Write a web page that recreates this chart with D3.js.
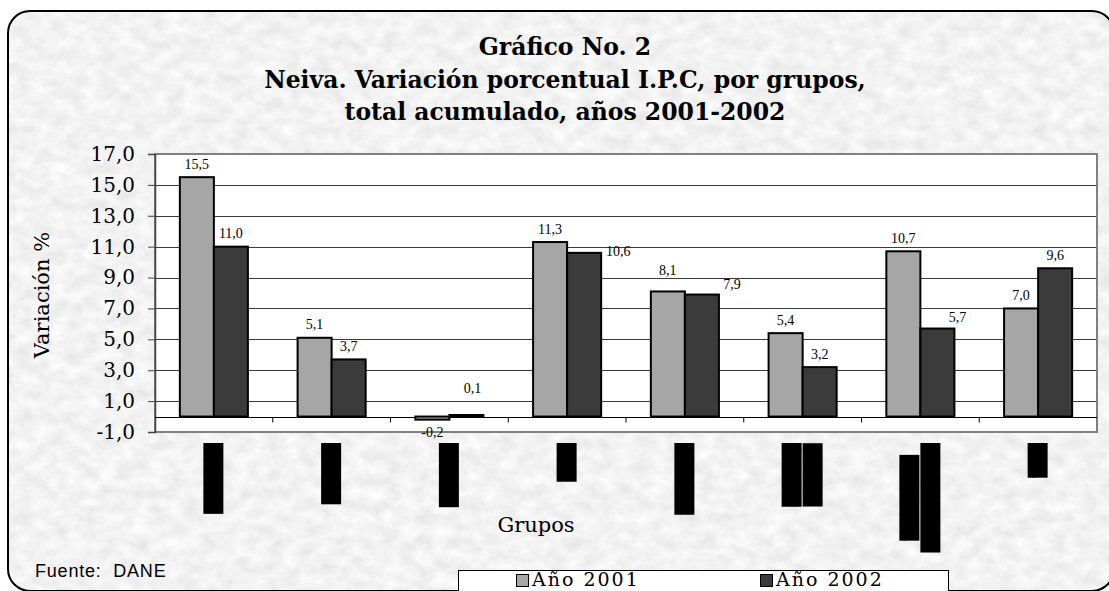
<!DOCTYPE html>
<html>
<head>
<meta charset="utf-8">
<script src="https://cdn.jsdelivr.net/npm/d3@7/dist/d3.min.js"></script>
<style>
  html, body { margin: 0; padding: 0; background: #fff; }
  svg { display: block; }
</style>
</head>
<body>
<div id="chart"></div>
<script>
// IPC chart, Neiva 2001-2002

// Chart data
const categories = [
  ['Alimentos'],
  ['Vivienda'],
  ['Vestuario'],
  ['Salud'],
  ['Educación'],
  ['Cultura y', 'diversión'],
  ['Transporte y', 'comunicaciones'],
  ['Total']
];
const seriesNames = ['Año 2001', 'Año 2002'];
const values2001 = [15.5, 5.1, -0.2, 11.3, 8.1, 5.4, 10.7, 7.0];
const values2002 = [11.0, 3.7, 0.1, 10.6, 7.9, 3.2, 5.7, 9.6];
const yTicks = [-1, 1, 3, 5, 7, 9, 11, 13, 15, 17];
const titleLines = [
  'Gráfico No. 2',
  'Neiva. Variación porcentual I.P.C, por grupos,',
  'total acumulado, años 2001-2002'
];

const width = 1109;
const height = 591;
const colors = ['#a6a6a6', '#3b3b3b'];
const serif = '"DejaVu Serif", serif';
const plainSerif = '"Liberation Serif", "Times New Roman", serif';

// Spanish number format (comma decimal, ascii minus)
const esLocale = d3.formatLocale({
  decimal: ',', thousands: '.', grouping: [3], currency: ['$', ''], minus: '-'
});
const fmt = esLocale.format('.1f');

const svg = d3.select('#chart')
  .append('svg')
  .attr('width', width)
  .attr('height', height);

const defs = svg.append('defs');

// Marble-like gray texture for the frame background
const filter = defs.append('filter')
  .attr('id', 'marble')
  .attr('x', 0).attr('y', 0).attr('width', 1).attr('height', 1);
filter.append('feTurbulence')
  .attr('type', 'fractalNoise')
  .attr('baseFrequency', '0.06 0.08')
  .attr('numOctaves', 5)
  .attr('seed', 7)
  .attr('result', 'noise');
filter.append('feColorMatrix')
  .attr('in', 'noise')
  .attr('type', 'matrix')
  .attr('values', '0.26 0 0 0 0.76  0.26 0 0 0 0.76  0.26 0 0 0 0.76  0 0 0 0 1');

const frame = { x: 8, y: 11, w: 1106, h: 580, r: 22 };

defs.append('clipPath').attr('id', 'frameClip')
  .append('rect')
  .attr('x', frame.x).attr('y', frame.y)
  .attr('width', frame.w).attr('height', frame.h)
  .attr('rx', frame.r);

svg.append('rect')
  .attr('x', frame.x).attr('y', frame.y)
  .attr('width', frame.w).attr('height', frame.h)
  .attr('clip-path', 'url(#frameClip)')
  .attr('filter', 'url(#marble)');

svg.append('rect')
  .attr('x', frame.x).attr('y', frame.y)
  .attr('width', frame.w).attr('height', frame.h)
  .attr('rx', frame.r)
  .attr('fill', 'none')
  .attr('stroke', '#000')
  .attr('stroke-width', 2);

// Title
svg.append('g')
  .selectAll('text')
  .data(titleLines)
  .enter()
  .append('text')
  .attr('x', 565)
  .attr('y', (d, i) => 55 + i * 32.5)
  .attr('text-anchor', 'middle')
  .style('font-family', serif)
  .style('font-weight', 'bold')
  .style('font-size', '23.5px')
  .text(d => d);

// Plot area
const plot = { left: 155, right: 1097, top: 154, bottom: 432 };

const y = d3.scaleLinear()
  .domain([-1, 17])
  .range([plot.bottom, plot.top]);

const x0 = d3.scaleBand()
  .domain(d3.range(categories.length))
  .range([plot.left, plot.right])
  .padding(0);

const x1 = d3.scaleBand()
  .domain([0, 1])
  .range([0, x0.bandwidth()])
  .paddingInner(0)
  .paddingOuter(0.73);

svg.append('rect')
  .attr('x', plot.left).attr('y', plot.top)
  .attr('width', plot.right - plot.left)
  .attr('height', plot.bottom - plot.top)
  .attr('fill', '#fff');

// Gridlines
svg.append('g')
  .selectAll('line')
  .data(yTicks.filter(t => t > -1 && t < 17))
  .enter()
  .append('line')
  .attr('x1', plot.left).attr('x2', plot.right)
  .attr('y1', d => Math.round(y(d)) + 0.5)
  .attr('y2', d => Math.round(y(d)) + 0.5)
  .attr('stroke', '#3a3a3a')
  .attr('stroke-width', 1);

svg.append('rect')
  .attr('x', plot.left).attr('y', plot.top)
  .attr('width', plot.right - plot.left)
  .attr('height', plot.bottom - plot.top)
  .attr('fill', 'none')
  .attr('stroke', '#808080')
  .attr('stroke-width', 2);

// Y axis
const yAxis = d3.axisLeft(y)
  .tickValues(yTicks)
  .tickSize(7)
  .tickPadding(13)
  .tickFormat(fmt);

const yAxisG = svg.append('g')
  .attr('transform', `translate(${plot.left},0)`)
  .call(yAxis);
yAxisG.select('.domain').attr('stroke', '#444').attr('stroke-width', 1.5);
yAxisG.selectAll('.tick line').attr('stroke', '#444');
yAxisG.selectAll('.tick text')
  .style('font-family', serif)
  .style('font-size', '20px')
  .attr('fill', '#000');

// Category axis at zero
const zeroY = Math.round(y(0)) + 0.5;
svg.append('line')
  .attr('x1', plot.left).attr('x2', plot.right)
  .attr('y1', zeroY).attr('y2', zeroY)
  .attr('stroke', '#000')
  .attr('stroke-width', 1.2);

svg.append('g')
  .selectAll('line')
  .data(d3.range(1, categories.length))
  .enter()
  .append('line')
  .attr('x1', d => x0(d)).attr('x2', d => x0(d))
  .attr('y1', zeroY).attr('y2', zeroY + 5)
  .attr('stroke', '#000');

// Bars
const rows = categories.map((c, i) => ({
  index: i,
  values: [values2001[i], values2002[i]]
}));

const groups = svg.append('g')
  .selectAll('g')
  .data(rows)
  .enter()
  .append('g')
  .attr('transform', d => `translate(${x0(d.index)},0)`);

groups.selectAll('rect')
  .data(d => d.values.map((v, s) => ({ v, s, g: d.index })))
  .enter()
  .append('rect')
  .attr('x', d => x1(d.s))
  .attr('width', x1.bandwidth())
  .attr('y', d => y(Math.max(0, d.v)))
  .attr('height', d => Math.abs(y(d.v) - y(0)))
  .attr('fill', d => colors[d.s])
  .attr('stroke', '#000')
  .attr('stroke-width', 2);

// Data labels; a few are nudged the way the original chart placed them
const nudges = {
  '2-1': [6, -14],
  '3-1': [34, 12],
  '4-0': [0, -8],
  '4-1': [30, 3],
  '6-1': [20, 2]
};

groups.selectAll('text.value')
  .data(d => d.values.map((v, s) => ({ v, s, g: d.index })))
  .enter()
  .append('text')
  .attr('class', 'value')
  .attr('x', d => x1(d.s) + x1.bandwidth() / 2 + (nudges[d.g + '-' + d.s] || [0, 0])[0])
  .attr('y', d => (d.v >= 0 ? y(d.v) - 8.5 : y(d.v) + 17) + (nudges[d.g + '-' + d.s] || [0, 0])[1])
  .attr('text-anchor', 'middle')
  .style('font-family', plainSerif)
  .style('font-size', '14px')
  .text(d => fmt(d.v));

// Category labels (rotated, printed on black blocks as in the original)
const labelTop = 443;
const lineStep = 21;

categories.forEach((lines, i) => {
  const cx = x0(i) + x0.bandwidth() / 2;
  const g = svg.append('g');
  const texts = lines.map((line, j) => g.append('text')
    .attr('text-anchor', 'middle')
    .style('font-family', plainSerif)
    .style('font-size', '17px')
    .attr('fill', '#000')
    .text(line));
  const lens = texts.map(t => t.node().getComputedTextLength());
  const maxLen = d3.max(lens);
  const midY = labelTop + maxLen / 2;
  texts.forEach((t, j) => {
    const lx = cx - (lines.length * lineStep) / 2 + j * lineStep;
    g.insert('rect', 'text')
      .attr('x', lx)
      .attr('y', midY - lens[j] / 2)
      .attr('width', lineStep - 1)
      .attr('height', lens[j])
      .attr('fill', '#000');
    t.attr('transform', `translate(${lx + 15},${midY}) rotate(-90)`);
  });
});

// Axis titles
svg.append('text')
  .attr('transform', 'translate(49,295) rotate(-90)')
  .attr('text-anchor', 'middle')
  .style('font-family', serif)
  .style('font-size', '21px')
  .text('Variación %');

svg.append('text')
  .attr('x', 536)
  .attr('y', 532)
  .attr('text-anchor', 'middle')
  .style('font-family', serif)
  .style('font-size', '21px')
  .text('Grupos');

// Source note
svg.append('text')
  .attr('x', 35)
  .attr('y', 577)
  .style('font-family', '"Liberation Sans", Arial, sans-serif')
  .style('font-size', '18px')
  .style('letter-spacing', '0.8px')
  .attr('xml:space', 'preserve')
  .text('Fuente:  DANE');

// Legend
const legend = svg.append('g');
legend.append('rect')
  .attr('x', 458.5).attr('y', 570.5)
  .attr('width', 490).attr('height', 40)
  .attr('fill', '#fff')
  .attr('stroke', '#000');

const legendItems = legend.selectAll('g')
  .data(seriesNames)
  .enter()
  .append('g')
  .attr('transform', (d, i) => `translate(${516 + i * 244},0)`);

legendItems.append('rect')
  .attr('x', 0.5).attr('y', 574.5)
  .attr('width', 12).attr('height', 12)
  .attr('fill', (d, i) => colors[i])
  .attr('stroke', '#000');

legendItems.append('text')
  .attr('x', 16)
  .attr('y', 586)
  .style('font-family', serif)
  .style('font-size', '19px')
  .style('letter-spacing', '2px')
  .text(d => d);
</script>
</body>
</html>
